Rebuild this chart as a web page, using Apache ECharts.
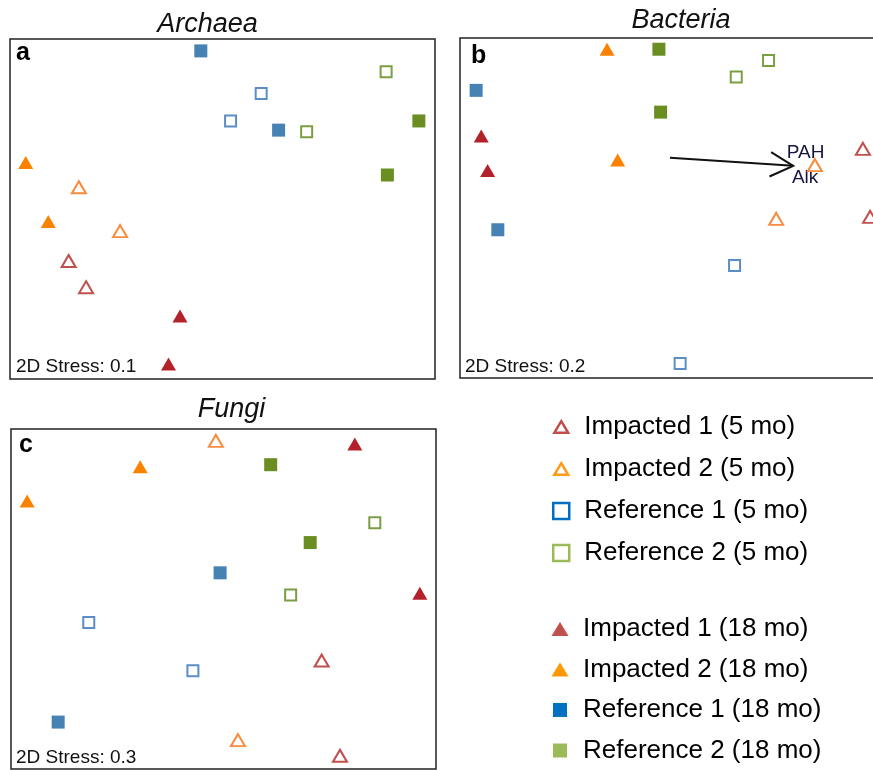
<!DOCTYPE html>
<html>
<head>
<meta charset="utf-8">
<script src="https://cdn.jsdelivr.net/npm/echarts@6/dist/echarts.min.js"></script>
<style>html,body{margin:0;padding:0;background:#fff;}#chart{width:873px;height:770px;}</style>
</head>
<body>
<div id="chart"></div>
<script>
// ---- Group names (legend) ----
const groupNames = ['Impacted 1 (5 mo)', 'Impacted 2 (5 mo)', 'Reference 1 (5 mo)', 'Reference 2 (5 mo)',
                    'Impacted 1 (18 mo)', 'Impacted 2 (18 mo)', 'Reference 1 (18 mo)', 'Reference 2 (18 mo)'];
const panelTitles = ['Archaea', 'Bacteria', 'Fungi'];
const panelLetters = ['a', 'b', 'c'];
const stressLabels = ['2D Stress: 0.1', '2D Stress: 0.2', '2D Stress: 0.3'];

// ---- Archaea (panel a), NMDS coordinates (arbitrary 0-100 units) ----
const archaeaImp1_5 = [[13.8, 34.7], [17.9, 27.0]];
const archaeaImp2_5 = [[16.2, 56.4], [25.9, 43.5]];
const archaeaRef1_5 = [[59.1, 84.0], [51.9, 75.9]];
const archaeaRef2_5 = [[88.5, 90.4], [69.8, 72.7]];
const archaeaImp1_18 = [[40.0, 18.5], [37.3, 4.4]];
const archaeaImp2_18 = [[3.7, 63.7], [9.0, 46.3]];
const archaeaRef1_18 = [[44.9, 96.5], [63.2, 73.2]];
const archaeaRef2_18 = [[96.2, 75.9], [88.8, 60.0]];

// ---- Bacteria (panel b) ----
const bacteriaImp1_5 = [[94.8, 67.4], [96.5, 47.4]];
const bacteriaImp2_5 = [[83.5, 62.6], [74.4, 46.8]];
const bacteriaRef1_5 = [[64.6, 33.1], [51.8, 4.3]];
const bacteriaRef2_5 = [[72.6, 93.4], [65.0, 88.5]];
const bacteriaImp1_18 = [[5.0, 71.2], [6.5, 61.0]];
const bacteriaImp2_18 = [[34.6, 96.7], [37.1, 64.1]];
const bacteriaRef1_18 = [[3.8, 84.6], [8.9, 43.6]];
const bacteriaRef2_18 = [[46.8, 96.7], [47.2, 78.2]];
// environmental vector (PAH / Alk) in panel b
const vectorStart = [49.4, 64.8];
const vectorEnd = [78.4, 62.4];
const vectorLabels = [{ name: 'PAH', value: [81.3, 66.3] }, { name: 'Alk', value: [81.2, 59.0] }];

// ---- Fungi (panel c) ----
const fungiImp1_5 = [[73.1, 31.9], [77.4, 3.9]];
const fungiImp2_5 = [[48.2, 96.5], [53.4, 8.5]];
const fungiRef1_5 = [[18.3, 43.1], [42.8, 28.9]];
const fungiRef2_5 = [[85.6, 72.4], [65.8, 51.2]];
const fungiImp1_18 = [[80.9, 95.6], [96.2, 51.7]];
const fungiImp2_18 = [[30.4, 88.9], [3.8, 78.8]];
const fungiRef1_18 = [[49.2, 57.7], [11.1, 13.8]];
const fungiRef2_18 = [[61.1, 89.5], [70.4, 66.6]];

const panelData = [
  [archaeaImp1_5, archaeaImp2_5, archaeaRef1_5, archaeaRef2_5, archaeaImp1_18, archaeaImp2_18, archaeaRef1_18, archaeaRef2_18],
  [bacteriaImp1_5, bacteriaImp2_5, bacteriaRef1_5, bacteriaRef2_5, bacteriaImp1_18, bacteriaImp2_18, bacteriaRef1_18, bacteriaRef2_18],
  [fungiImp1_5, fungiImp2_5, fungiRef1_5, fungiRef2_5, fungiImp1_18, fungiImp2_18, fungiRef1_18, fungiRef2_18]
];

// ---- Styles ----
const FONT = "'Liberation Sans', Arial, sans-serif";
const markerStyles = [
  { symbol: 'triangle', size: [14, 12], itemStyle: { color: '#fff', borderColor: '#c0504d', borderWidth: 2 } },
  { symbol: 'triangle', size: [14, 12], itemStyle: { color: '#fff', borderColor: '#f88d40', borderWidth: 2 } },
  { symbol: 'rect', size: 11, itemStyle: { color: '#fff', borderColor: '#5b8ec6', borderWidth: 2 } },
  { symbol: 'rect', size: 11, itemStyle: { color: '#fff', borderColor: '#7c9d42', borderWidth: 2 } },
  { symbol: 'triangle', size: [15, 13], itemStyle: { color: '#b3222a' } },
  { symbol: 'triangle', size: [15, 13], itemStyle: { color: '#fb8200' } },
  { symbol: 'rect', size: 13, itemStyle: { color: '#4682b4' } },
  { symbol: 'rect', size: 13, itemStyle: { color: '#6b8e23' } }
];
const openTri = 'path://M0,0M7.5,2L14,13L1,13ZM15,15';
const fillTri = 'path://M8.5,0L17,14L0,14Z';
const sq = 'path://M0,0L10,0L10,10L0,10Z';
const legendItems = [
  { icon: openTri, itemStyle: { color: '#fff', borderColor: '#c0504d', borderWidth: 2.5, opacity: 1 } },
  { icon: openTri, itemStyle: { color: '#fff', borderColor: '#ff9a1a', borderWidth: 2.5, opacity: 1 } },
  { icon: sq, itemStyle: { color: '#fff', borderColor: '#0070c0', borderWidth: 2.5, opacity: 1 } },
  { icon: sq, itemStyle: { color: '#fff', borderColor: '#9bbb59', borderWidth: 2.5, opacity: 1 } },
  { icon: fillTri, itemStyle: { color: '#c0504d', borderWidth: 0, opacity: 1 } },
  { icon: fillTri, itemStyle: { color: '#ff9900', borderWidth: 0, opacity: 1 } },
  { icon: sq, itemStyle: { color: '#0070c0', borderWidth: 0, opacity: 1 } },
  { icon: sq, itemStyle: { color: '#9bbb59', borderWidth: 0, opacity: 1 } }
];

const grids = [
  { left: 10, top: 39, width: 425, height: 340 },
  { left: 460, top: 38, width: 425, height: 340 },
  { left: 11, top: 429, width: 425, height: 340 }
].map(g => Object.assign({ show: true, borderColor: '#222', borderWidth: 1.5, backgroundColor: 'transparent',
  containLabel: false, outerBoundsMode: 'none' }, g));

const axisBase = { type: 'value', min: 0, max: 100, show: false, splitLine: { show: false } };
const xAxes = grids.map((g, i) => Object.assign({ gridIndex: i }, axisBase));
const yAxes = grids.map((g, i) => Object.assign({ gridIndex: i }, axisBase));

const series = [];
panelData.forEach((groups, p) => {
  groups.forEach((pts, k) => {
    const st = markerStyles[k];
    series.push({
      type: 'scatter', name: groupNames[k], xAxisIndex: p, yAxisIndex: p,
      symbol: st.symbol, symbolSize: st.size, itemStyle: Object.assign({ opacity: 1 }, st.itemStyle),
      data: pts, silent: true, z: 3, clip: false
    });
  });
});

// vector arrow in Bacteria panel
series.push({
  type: 'custom', xAxisIndex: 1, yAxisIndex: 1, silent: true, z: 2,
  data: [[vectorStart[0], vectorStart[1], vectorEnd[0], vectorEnd[1]]],
  encode: { x: [0, 2], y: [1, 3] },
  renderItem: function (params, api) {
    const p0 = api.coord([api.value(0), api.value(1)]);
    const p1 = api.coord([api.value(2), api.value(3)]);
    const ang = Math.atan2(p1[1] - p0[1], p1[0] - p0[0]);
    const L = 26, a = 0.49;
    const h1 = [p1[0] - L * Math.cos(ang - a), p1[1] - L * Math.sin(ang - a)];
    const h2 = [p1[0] - L * Math.cos(ang + a), p1[1] - L * Math.sin(ang + a)];
    return {
      type: 'group', children: [
        { type: 'line', shape: { x1: p0[0], y1: p0[1], x2: p1[0], y2: p1[1] }, style: { stroke: '#111', lineWidth: 2 } },
        { type: 'polyline', shape: { points: [h1, p1, h2] }, style: { stroke: '#111', lineWidth: 2, fill: null } }
      ]
    };
  }
});
series.push({
  type: 'scatter', xAxisIndex: 1, yAxisIndex: 1, silent: true, z: 2,
  symbolSize: 0, itemStyle: { color: 'rgba(0,0,0,0)', opacity: 1 },
  data: vectorLabels,
  label: { show: true, position: 'inside', formatter: '{b}', color: '#15153f', opacity: 1, fontSize: 19, fontFamily: FONT }
});

const legendText = { fontSize: 26, fontFamily: FONT, color: '#000', lineHeight: 28 };
const legends = [
  { orient: 'vertical', left: 552, top: 413, itemWidth: 36, itemHeight: 16, itemGap: 14,
    data: groupNames.slice(0, 4).map((n, i) => Object.assign({ name: n }, legendItems[i])) },
  { orient: 'vertical', left: 551.5, top: 615, itemWidth: 36, itemHeight: 14, itemGap: 12.5,
    data: groupNames.slice(4).map((n, i) => Object.assign({ name: n }, legendItems[i + 4])) }
].map(l => Object.assign({ textStyle: legendText, selectedMode: false, padding: 0, symbolKeepAspect: true }, l));

const titlePos = [[207.5, 24.5], [681, 20.5], [231.5, 409]];
const letterPos = [[16, 53.5], [471, 56.5], [19, 445]];
const stressPos = [[16, 366.5], [465, 366.5], [16, 758]];
const graphics = [];
for (let i = 0; i < 3; i++) {
  graphics.push({ type: 'text', x: titlePos[i][0], y: titlePos[i][1], silent: true,
    style: { text: panelTitles[i], font: 'italic 27px ' + FONT, fill: '#111', align: 'center', verticalAlign: 'middle' } });
  graphics.push({ type: 'text', x: letterPos[i][0], y: letterPos[i][1], silent: true,
    style: { text: panelLetters[i], font: 'bold 25px ' + FONT, fill: '#000', align: 'left', verticalAlign: 'middle' } });
  graphics.push({ type: 'text', x: stressPos[i][0], y: stressPos[i][1], silent: true,
    style: { text: stressLabels[i], font: '19px ' + FONT, fill: '#111', align: 'left', verticalAlign: 'middle' } });
}

const chart = echarts.init(document.getElementById('chart'), null, { renderer: 'canvas' });
chart.setOption({
  backgroundColor: '#fff',
  animation: false,
  grid: grids,
  xAxis: xAxes,
  yAxis: yAxes,
  legend: legends,
  series: series,
  graphic: graphics
});
</script>
</body>
</html>
